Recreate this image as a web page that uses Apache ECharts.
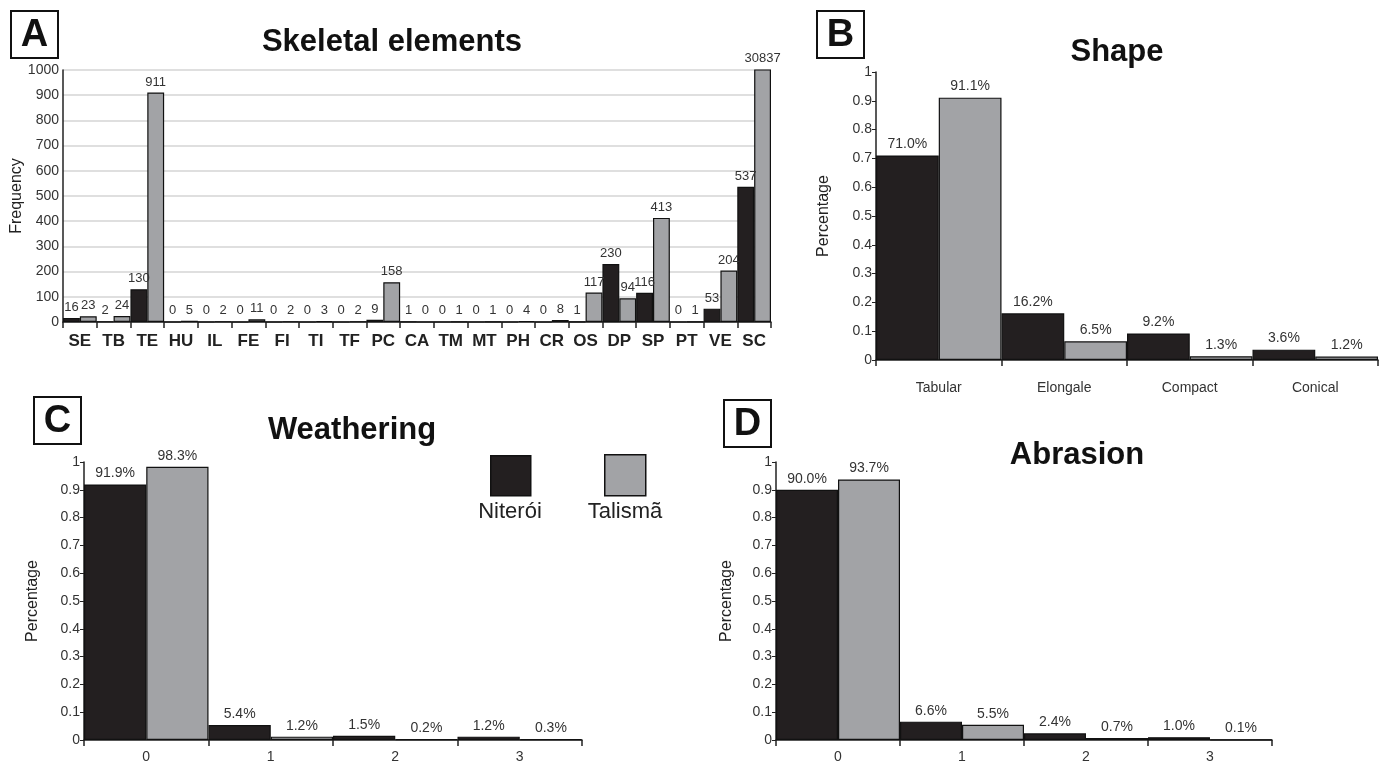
<!DOCTYPE html>
<html>
<head>
<meta charset="utf-8">
<script src="https://cdn.jsdelivr.net/npm/echarts@6/dist/echarts.min.js"></script>
<style>
  html, body { margin: 0; padding: 0; background: #fff; }
  #chart { width: 1385px; height: 766px; }
</style>
</head>
<body>
<div id="chart"></div>
<script>
// Skeletal elements (counts)
const skeletalCats = ['SE','TB','TE','HU','IL','FE','FI','TI','TF','PC','CA','TM','MT','PH','CR','OS','DP','SP','PT','VE','SC'];
const skeletalNiteroi = [16, 2, 130, 0, 0, 0, 0, 0, 0, 9, 1, 0, 0, 0, 0, 1, 230, 116, 0, 53, 537];
const skeletalTalisma = [23, 24, 911, 5, 2, 11, 2, 3, 2, 158, 0, 1, 1, 4, 8, 117, 94, 413, 1, 204, 30837];
const freqTicks = [0, 1000, 100];

// Shape (proportions)
const shapeCats = ['Tabular', 'Elongale', 'Compact', 'Conical'];
const shapeNiteroi = [0.710, 0.162, 0.092, 0.036];
const shapeTalisma = [0.911, 0.065, 0.013, 0.012];

// Weathering stages (proportions)
const weatherCats = ['0', '1', '2', '3'];
const weatherNiteroi = [0.919, 0.054, 0.015, 0.012];
const weatherTalisma = [0.983, 0.012, 0.002, 0.003];

// Abrasion stages (proportions)
const abrasionCats = ['0', '1', '2', '3'];
const abrasionNiteroi = [0.900, 0.066, 0.024, 0.010];
const abrasionTalisma = [0.937, 0.055, 0.007, 0.001];

const pctTicks = [0, 1, 0.1];
const seriesNames = ['Niterói', 'Talismã'];

const DARK = '#231f20';
const GREY = '#a2a3a6';
const NARROW = "'Liberation Sans Narrow', 'Liberation Sans', Arial, sans-serif";
const SANS = "'Liberation Sans', Arial, sans-serif";

const chart = echarts.init(document.getElementById('chart'), null, { renderer: 'canvas' });

const gridBase = { outerBoundsMode: 'none', containLabel: false };
const grids = [
  Object.assign({ left: 63, top: 70, width: 708, height: 252 }, gridBase),
  Object.assign({ left: 876, top: 72, width: 502, height: 288 }, gridBase),
  Object.assign({ left: 84, top: 462, width: 498, height: 278 }, gridBase),
  Object.assign({ left: 776, top: 462, width: 496, height: 278 }, gridBase)
];

function xAxis(idx, cats, opts) {
  return Object.assign({
    type: 'category', gridIndex: idx, data: cats,
    axisLine: { lineStyle: { color: '#222', width: 1.5 } },
    axisTick: { show: true, alignWithLabel: false, length: 6, lineStyle: { color: '#222', width: 1.5 } },
    axisLabel: { color: '#333', fontFamily: NARROW, fontSize: 14, margin: 10, interval: 0 }
  }, opts || {});
}

function yAxis(idx, ticks, name, nameGap, opts) {
  return Object.assign({
    type: 'value', gridIndex: idx, min: ticks[0], max: ticks[1], interval: ticks[2],
    name: name, nameLocation: 'middle', nameGap: nameGap, nameRotate: 90, nameMoveOverlap: false,
    nameTextStyle: { fontFamily: SANS, fontSize: 16, color: '#222' },
    axisLine: { show: true, lineStyle: { color: '#222', width: 1.5 } },
    axisTick: { show: true, length: 4, lineStyle: { color: '#222' } },
    axisLabel: { color: '#333', fontFamily: NARROW, fontSize: 14, margin: 4, formatter: v => String(v) },
    splitLine: { show: false }
  }, opts || {});
}

const pctFmt = p => (p.value * 100).toFixed(1) + '%';

function barPair(idx, dN, dT, fmt, labelSize) {
  const lab = {
    show: true, position: 'top', distance: 4, color: '#333',
    fontFamily: NARROW, fontSize: labelSize, formatter: fmt
  };
  return [
    { name: seriesNames[0], type: 'bar', xAxisIndex: idx, yAxisIndex: idx, data: dN,
      barGap: '0%', barCategoryGap: '0%', clip: true,
      itemStyle: { color: DARK, borderColor: '#111', borderWidth: 1.2 }, label: lab },
    { name: seriesNames[1], type: 'bar', xAxisIndex: idx, yAxisIndex: idx, data: dT,
      barGap: '0%', barCategoryGap: '0%', clip: true,
      itemStyle: { color: GREY, borderColor: '#111', borderWidth: 1.2 }, label: lab }
  ];
}

function letterBox(ch, x, y) {
  return {
    type: 'group', left: x, top: y, children: [
      { type: 'rect', shape: { x: 0, y: 0, width: 47, height: 47 },
        style: { fill: '#fff', stroke: '#111', lineWidth: 2 } },
      { type: 'text', x: 23.5, y: 25,
        style: { text: ch, fill: '#111', font: "bold 38px " + SANS, align: 'center', verticalAlign: 'middle' } }
    ]
  };
}

const titleStyle = { fontFamily: SANS, fontSize: 31, fontWeight: 'bold', color: '#111' };

const option = {
  animation: false,
  backgroundColor: '#fff',
  title: [
    { text: 'Skeletal elements', left: 387, top: 22, textAlign: 'center', textStyle: titleStyle },
    { text: 'Shape', left: 1112, top: 32, textAlign: 'center', textStyle: titleStyle },
    { text: 'Weathering', left: 347, top: 410, textAlign: 'center', textStyle: titleStyle },
    { text: 'Abrasion', left: 1072, top: 435, textAlign: 'center', textStyle: titleStyle }
  ],
  grid: grids,
  xAxis: [
    xAxis(0, skeletalCats, {
      axisLabel: { color: '#222', fontFamily: SANS, fontWeight: 'bold', fontSize: 17, margin: 11, interval: 0 }
    }),
    xAxis(1, shapeCats, { axisLabel: { color: '#333', fontFamily: NARROW, fontSize: 14, margin: 21, interval: 0 } }),
    xAxis(2, weatherCats),
    xAxis(3, abrasionCats)
  ],
  yAxis: [
    yAxis(0, freqTicks, 'Frequency', 38, {
      splitLine: { show: true, lineStyle: { color: '#d4d4d4', width: 1.5 } },
      axisTick: { show: false }
    }),
    yAxis(1, pctTicks, 'Percentage', 44),
    yAxis(2, pctTicks, 'Percentage', 43),
    yAxis(3, pctTicks, 'Percentage', 41)
  ],
  series: [].concat(
    barPair(0, skeletalNiteroi, skeletalTalisma, p => String(p.value), 13),
    barPair(1, shapeNiteroi, shapeTalisma, pctFmt, 14),
    barPair(2, weatherNiteroi, weatherTalisma, pctFmt, 14),
    barPair(3, abrasionNiteroi, abrasionTalisma, pctFmt, 14)
  ),
  graphic: [
    letterBox('A', 10, 10),
    letterBox('B', 816, 10),
    letterBox('C', 33, 396),
    letterBox('D', 723, 399),
    // legend for the two sites
    { type: 'rect', left: 490, top: 455, shape: { width: 40, height: 40 },
      style: { fill: DARK, stroke: '#111', lineWidth: 1.5 } },
    { type: 'rect', left: 604, top: 454, shape: { width: 41, height: 41 },
      style: { fill: GREY, stroke: '#111', lineWidth: 1.5 } },
    { type: 'text', x: 510, y: 512,
      style: { text: seriesNames[0], fill: '#222', font: "22px " + NARROW, align: 'center', verticalAlign: 'middle' } },
    { type: 'text', x: 625, y: 512,
      style: { text: seriesNames[1], fill: '#222', font: "22px " + NARROW, align: 'center', verticalAlign: 'middle' } }
  ]
};

chart.setOption(option);
</script>
</body>
</html>
